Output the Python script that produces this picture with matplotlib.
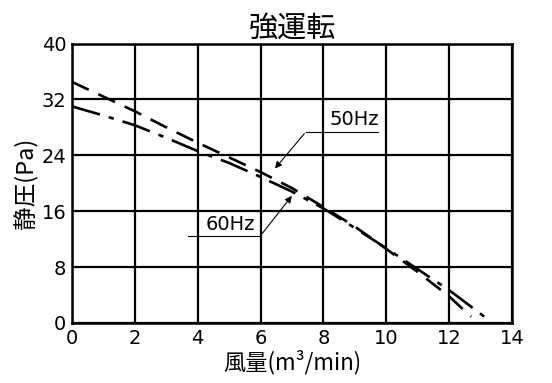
import matplotlib
matplotlib.use("Agg")
import matplotlib.pyplot as plt
from matplotlib import font_manager

names = {f.name for f in font_manager.fontManager.ttflist}
num_font = "Liberation Sans Narrow" if "Liberation Sans Narrow" in names else "DejaVu Sans"
plt.rcParams['font.family'] = ['Noto Sans CJK JP', 'DejaVu Sans']

# Data
flow_50 = [0, 1, 2, 3, 4, 5, 6, 7, 8, 9, 10, 11, 12, 12.7]
pres_50 = [34.5, 32.4, 30.3, 28.0, 25.8, 23.7, 21.6, 19.3, 16.6, 13.8, 10.6, 7.3, 3.8, 0.9]
flow_60 = [0, 1, 2, 3, 4, 5, 6, 7, 8, 9, 10, 11, 12, 13.3]
pres_60 = [31.0, 29.7, 28.3, 26.5, 24.6, 22.9, 20.9, 18.8, 16.4, 13.6, 10.7, 7.7, 4.7, 0.3]
x_ticks = [0, 2, 4, 6, 8, 10, 12, 14]
y_ticks = [0, 8, 16, 24, 32, 40]

fig = plt.figure(figsize=(5.52, 3.83), dpi=100)
ax = fig.add_axes([0.1304, 0.1567, 0.7971, 0.7297])
ax.set_xlim(0, 14)
ax.set_ylim(0, 40)
ax.set_xticks(x_ticks)
ax.set_yticks(y_ticks)
ax.grid(True, color='black', linewidth=1.6)
for s in ax.spines.values():
    s.set_linewidth(1.8)
ax.tick_params(length=0, pad=4)
for lab in ax.get_xticklabels() + ax.get_yticklabels():
    lab.set_fontfamily(num_font)
    lab.set_fontsize(14)

ax.plot(flow_50, pres_50, color='black', lw=1.9, dashes=(7, 4))
ax.plot(flow_60, pres_60, color='black', lw=1.9, dashes=(11, 3.5, 2, 3.5))

# annotations
ax.annotate('', xy=(6.4, 21.8), xytext=(7.45, 27.4),
            arrowprops=dict(arrowstyle='-|>', color='black', lw=0.8, mutation_scale=10))
ax.plot([7.45, 9.75], [27.4, 27.4], color='black', lw=0.8)
ax.text(8.2, 27.7, '50Hz', fontsize=14, family=num_font, va='bottom', ha='left')

ax.annotate('', xy=(7.05, 18.5), xytext=(6.0, 12.5),
            arrowprops=dict(arrowstyle='-|>', color='black', lw=0.8, mutation_scale=10))
ax.plot([3.7, 6.0], [12.5, 12.5], color='black', lw=0.8)
ax.text(4.25, 12.7, '60Hz', fontsize=14, family=num_font, va='bottom', ha='left')

ax.set_title('強運転', fontsize=21, pad=3)
ax.set_ylabel('静圧(Pa)', fontsize=17, labelpad=2)
ax.set_xlabel('風量(m³/min)', fontsize=16, labelpad=2)

fig.savefig('out.png', dpi=100)
